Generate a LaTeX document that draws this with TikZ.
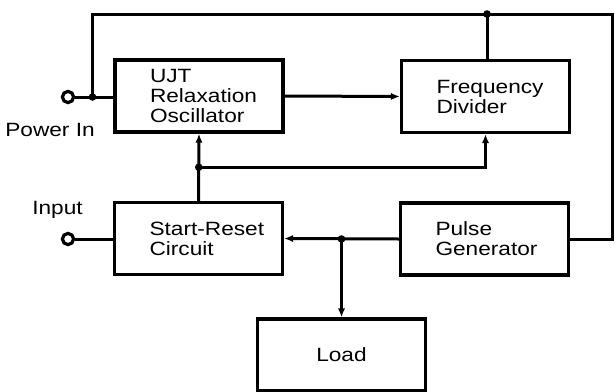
\documentclass[tikz,border=0pt]{standalone}
\usepackage{fontspec}
\setmainfont{Liberation Sans}[FakeStretch=1.18]
\usepackage{tikz}
\usetikzlibrary{arrows.meta, positioning, calc}
\tikzset{
    blk/.style={draw=black, line width=1.6pt, fill=white, align=left,
                font=\fontsize{9.6}{10}\selectfont, minimum width=84pt, minimum height=36pt,
                text width=49pt, inner xsep=17.5pt, inner ysep=2pt},
    wire/.style={line width=1.5pt, black},
    arr/.style={-{Latex[length=4.5pt, width=3.6pt]}, line width=1.5pt, black},
    term/.style={circle, draw=black, line width=1.6pt, fill=white, minimum size=5.6pt, inner sep=0pt},
    lab/.style={font=\fontsize{9.6}{10}\selectfont, text=black, inner sep=0pt},
}

\begin{document}
\begin{tikzpicture}[x=0.5pt, y=-0.5pt]
    \useasboundingbox[fill=white] (0,0) rectangle (615,391);
    % blocks
    \node[blk] (ujt) at (199,96) {UJT\\Relaxation\\Oscillator};
    \node[blk] (fdiv) at (485.5,96.5) {Frequency\\Divider};
    \node[blk] (srst) at (198.5,238.5) {\mbox{Start-Reset}\\Circuit};
    \node[blk] (pgen) at (484.5,239) {Pulse\\Generator};
    \node[blk, align=center] (load) at (341.5,355) {Load};
    % terminals
    \node[term] (pin) at (68,97) {};
    \node[term] (inp) at (68,239) {};
    \node[lab] (pinlab) at (50,130) {Power In};
    \node[lab] (inplab) at (57.5,210) {Input};
    % junctions
    \coordinate (pj) at (92.5,97);
    \coordinate (tj) at (487,14);
    \coordinate (tr) at (612.5,14);
    \coordinate (sj) at ($(ujt.south)!0.5!(srst.north)$);
    \coordinate (lj) at (load.north |- pgen.west);
    % power bus
    \draw[wire] (pin) -- (pin -| ujt.west);
    \draw[wire] (pj) |- (tr) |- (pgen.east);
    \draw[wire] (tj) -- (tj |- fdiv.north);
    % signal paths
    \draw[arr] (ujt.east) -- (fdiv.west);
    \draw[arr] (srst.north) -- (ujt.south);
    \draw[arr] (sj) -| (fdiv.south);
    \draw[wire] (inp) -- (inp -| srst.west);
    \draw[arr] (pgen.west) -- (srst.east);
    \draw[arr] (lj) -- (load.north);
    \foreach \j in {pj, tj, sj, lj}
        \fill (\j) circle (1.9pt);
\end{tikzpicture}
\end{document}
